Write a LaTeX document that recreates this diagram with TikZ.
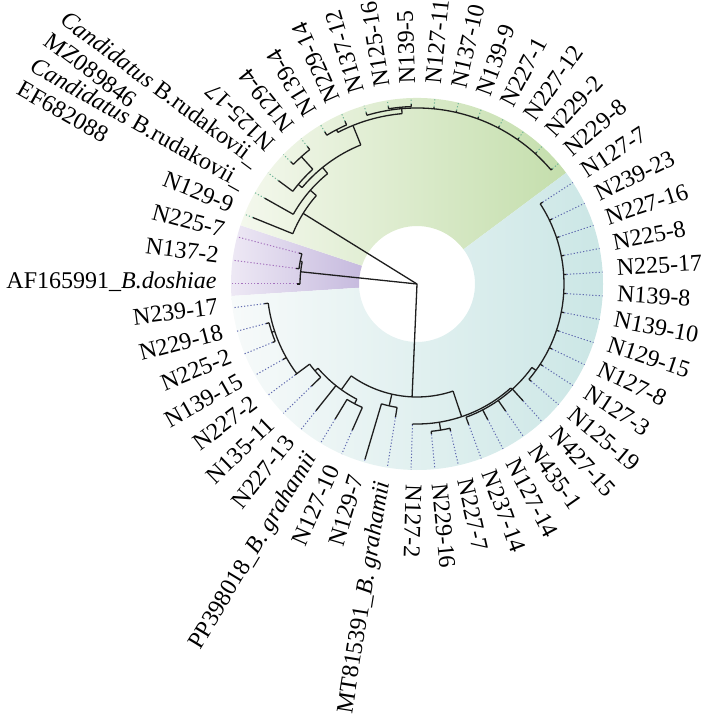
\documentclass[tikz,border=0pt]{standalone}
\usepackage{fontspec}
\setmainfont{Liberation Serif}
\usepackage{xcolor}
\definecolor{greenlight}{RGB}{244,248,237}
\definecolor{greendark}{RGB}{196,222,172}
\definecolor{bluelight}{RGB}{247,250,250}
\definecolor{bluedark}{RGB}{200,229,228}
\definecolor{purplelight}{RGB}{238,233,245}
\definecolor{purpledark}{RGB}{198,186,222}
\definecolor{dotgreen}{RGB}{110,180,150}
\definecolor{dotblue}{RGB}{95,105,175}
\definecolor{dotpurple}{RGB}{165,115,190}
\definecolor{branchcolor}{RGB}{30,30,30}

\begin{document}
\begin{tikzpicture}[
    x=0.5pt, y=0.5pt,
    branch/.style={draw=branchcolor, line width=0.65pt},
    tipG/.style={draw=dotgreen, line width=0.5pt, dash pattern=on 0.6pt off 1pt},
    tipB/.style={draw=dotblue, line width=0.5pt, dash pattern=on 0.6pt off 1pt},
    tipP/.style={draw=dotpurple, line width=0.5pt, dash pattern=on 0.6pt off 1pt},
    labR/.style={anchor=mid west, inner sep=0pt, inner xsep=7pt, font=\fontsize{12}{13}\selectfont},
    labL/.style={anchor=mid east, inner sep=0pt, inner xsep=7pt, font=\fontsize{12}{13}\selectfont},
    twoline/.style={text height=9pt, text depth=4pt}
]
\useasboundingbox (-417,-431) rectangle (283,284);

% Clade wedges
\shade[left color=purplelight, right color=purpledark] (183.7:58) -- (183.7:186) arc[start angle=183.7, end angle=161.6, radius=186] -- (161.6:58) arc[start angle=161.6, end angle=183.7, radius=58] -- cycle;
\shade[left color=greenlight, right color=greendark] (161.6:58) -- (161.6:186) arc[start angle=161.6, end angle=36.7, radius=186] -- (36.7:58) arc[start angle=36.7, end angle=161.6, radius=58] -- cycle;
\shade[left color=bluelight, right color=bluedark] (36.7:58) -- (36.7:186) arc[start angle=36.7, end angle=-176.3, radius=186] -- (-176.3:58) arc[start angle=-176.3, end angle=36.7, radius=58] -- cycle;

% Internal nodes
\coordinate (root) at (0,0);
\coordinate (P) at (174:117);
\coordinate (P2) at (168.98:119);
\coordinate (G) at (148.2:134);
\coordinate (G1) at (138.7:142);
\coordinate (G2) at (129:150);
\coordinate (Y) at (140:155);
\coordinate (A) at (132.25:172);
\coordinate (D) at (112:171);
\coordinate (C) at (117.55:174);
\coordinate (E) at (95:176);
\coordinate (H) at (95.51:177.5);
\coordinate (B) at (-92.5:113);
\coordinate (V) at (-125.6:130);
\coordinate (X) at (-117.55:135);
\coordinate (V1) at (-139.6:134);
\coordinate (V2) at (-143.27:150);
\coordinate (V3) at (-161.64:153);
\coordinate (W) at (-102.86:125);
\coordinate (R) at (-71.4:140);
\coordinate (S) at (-80.8:148);
\coordinate (T) at (-48:142);
\coordinate (U) at (-36:147);

% Branches
\draw[branch] (root) -- (P);
\draw[branch] (root) -- (G);
\draw[branch] (root) -- (B);
\draw[branch] (168.98:117) arc[start angle=168.98, end angle=180, radius=117];
\draw[branch] (168.98:117) -- (P2);
\draw[branch] (165.31:119) arc[start angle=165.31, end angle=172.65, radius=119];
\draw[branch] (138.7:134) arc[start angle=138.7, end angle=157.96, radius=134];
\draw[branch] (138.7:134) -- (G1);
\draw[branch] (129:142) arc[start angle=129, end angle=150.61, radius=142];
\draw[branch] (129:142) -- (G2);
\draw[branch] (112:150) arc[start angle=112, end angle=140, radius=150];
\draw[branch] (140:150) -- (Y);
\draw[branch] (132.25:155) arc[start angle=132.25, end angle=143.27, radius=155];
\draw[branch] (132.25:155) -- (A);
\draw[branch] (128.57:172) arc[start angle=128.57, end angle=135.92, radius=172];
\draw[branch] (112:150) -- (D);
\draw[branch] (95:171) arc[start angle=95, end angle=117.55, radius=171];
\draw[branch] (117.55:171) -- (C);
\draw[branch] (113.88:174) arc[start angle=113.88, end angle=121.22, radius=174];
\draw[branch] (95:171) -- (E);
\draw[branch] (40.41:176) arc[start angle=40.41, end angle=106.53, radius=176];
\draw[branch] (95.51:176) -- (H);
\draw[branch] (91.84:177.5) arc[start angle=91.84, end angle=99.18, radius=177.5];
\draw[branch] (-125.6:113) arc[start angle=-125.6, end angle=-71.4, radius=113];
\draw[branch] (-125.6:113) -- (V);
\draw[branch] (-139.6:130) arc[start angle=-139.6, end angle=-117.55, radius=130];
\draw[branch] (-117.55:130) -- (X);
\draw[branch] (-121.22:135) arc[start angle=-121.22, end angle=-113.88, radius=135];
\draw[branch] (-139.6:130) -- (V1);
\draw[branch] (-143.27:134) arc[start angle=-143.27, end angle=-135.92, radius=134];
\draw[branch] (-143.27:134) -- (V2);
\draw[branch] (-172.65:150) arc[start angle=-172.65, end angle=-143.27, radius=150];
\draw[branch] (-161.64:150) -- (V3);
\draw[branch] (-165.31:153) arc[start angle=-165.31, end angle=-157.96, radius=153];
\draw[branch] (-102.86:113) -- (W);
\draw[branch] (-106.53:125) arc[start angle=-106.53, end angle=-99.18, radius=125];
\draw[branch] (-71.4:113) -- (R);
\draw[branch] (-91.84:140) arc[start angle=-91.84, end angle=-48, radius=140];
\draw[branch] (-80.8:140) -- (S);
\draw[branch] (-84.49:148) arc[start angle=-84.49, end angle=-77.14, radius=148];
\draw[branch] (-48:140) -- (T);
\draw[branch] (-69.8:142) arc[start angle=-69.8, end angle=-36, radius=142];
\draw[branch] (-36:142) -- (U);
\draw[branch] (-40.41:147) arc[start angle=-40.41, end angle=33.06, radius=147];

% Tips and labels
\draw[branch] (180:117) -- (180:120) coordinate (t1); \draw[tipP] (t1) -- (180:186) node[labL, rotate=0] (lab1) {AF165991\_\textit{B.doshiae}};
\draw[branch] (172.65:119) -- (172.65:122) coordinate (t2); \draw[tipP] (t2) -- (172.65:186) node[labL, rotate=-7.35] (lab2) {N137-2};
\draw[branch] (165.31:119) -- (165.31:122) coordinate (t3); \draw[tipP] (t3) -- (165.31:186) node[labL, rotate=-14.69] (lab3) {N225-7};
\draw[branch] (157.96:134) -- (157.96:177) coordinate (t4); \draw[tipG] (t4) -- (157.96:186) node[labL, rotate=-22.04] (lab4) {N129-9};
\draw[branch] (150.61:142) -- (150.61:175) coordinate (t5); \draw[tipG] (t5) -- (150.61:186) node[labL, twoline, rotate=-29.39] (lab5) {\textit{Candidatus} B.rudakovii\_};
\node[labL, twoline, rotate=-29.39, anchor=north west] (lab5b) at (lab5.south west) {EF682088};
\draw[branch] (143.27:155) -- (143.27:173) coordinate (t6); \draw[tipG] (t6) -- (143.27:186) node[labL, twoline, rotate=-36.73] (lab6) {\textit{Candidatus} B.rudakovii\_};
\node[labL, twoline, rotate=-36.73, anchor=north west] (lab6b) at (lab6.south west) {MZ089846};
\draw[branch] (135.92:172) -- (135.92:176) coordinate (t7); \draw[tipG] (t7) -- (135.92:186) node[labR, rotate=135.92] (lab7) {N125-17};
\draw[branch] (128.57:172) -- (128.57:176) coordinate (t8); \draw[tipG] (t8) -- (128.57:186) node[labR, rotate=128.57] (lab8) {N129-4};
\draw[branch] (121.22:174) -- (121.22:178) coordinate (t9); \draw[tipG] (t9) -- (121.22:186) node[labR, rotate=121.22] (lab9) {N139-4};
\draw[branch] (113.88:174) -- (113.88:178) coordinate (t10); \draw[tipG] (t10) -- (113.88:186) node[labR, rotate=113.88] (lab10) {N229-14};
\draw[branch] (106.53:176) -- (106.53:179) coordinate (t11); \draw[tipG] (t11) -- (106.53:186) node[labR, rotate=106.53] (lab11) {N137-12};
\draw[branch] (99.18:177.5) -- (99.18:180) coordinate (t12); \draw[tipG] (t12) -- (99.18:186) node[labR, rotate=99.18] (lab12) {N125-16};
\draw[branch] (91.84:177.5) -- (91.84:180) coordinate (t13); \draw[tipG] (t13) -- (91.84:186) node[labR, rotate=91.84] (lab13) {N139-5};
\draw[branch] (84.49:176) -- (84.49:178) coordinate (t14); \draw[tipG] (t14) -- (84.49:186) node[labR, rotate=84.49] (lab14) {N127-11};
\draw[branch] (77.14:176) -- (77.14:178) coordinate (t15); \draw[tipG] (t15) -- (77.14:186) node[labR, rotate=77.14] (lab15) {N137-10};
\draw[branch] (69.80:176) -- (69.80:178) coordinate (t16); \draw[tipG] (t16) -- (69.80:186) node[labR, rotate=69.80] (lab16) {N139-9};
\draw[branch] (62.45:176) -- (62.45:178) coordinate (t17); \draw[tipG] (t17) -- (62.45:186) node[labR, rotate=62.45] (lab17) {N227-1};
\draw[branch] (55.10:176) -- (55.10:178) coordinate (t18); \draw[tipG] (t18) -- (55.10:186) node[labR, rotate=55.10] (lab18) {N227-12};
\draw[branch] (47.76:176) -- (47.76:178) coordinate (t19); \draw[tipG] (t19) -- (47.76:186) node[labR, rotate=47.76] (lab19) {N229-2};
\draw[branch] (40.41:176) -- (40.41:178) coordinate (t20); \draw[tipG] (t20) -- (40.41:186) node[labR, rotate=40.41] (lab20) {N229-8};
\draw[branch] (33.06:147) -- (33.06:150) coordinate (t21); \draw[tipB] (t21) -- (33.06:186) node[labR, rotate=33.06] (lab21) {N127-7};
\draw[branch] (25.71:147) -- (25.71:150) coordinate (t22); \draw[tipB] (t22) -- (25.71:186) node[labR, rotate=25.71] (lab22) {N239-23};
\draw[branch] (18.37:147) -- (18.37:150) coordinate (t23); \draw[tipB] (t23) -- (18.37:186) node[labR, rotate=18.37] (lab23) {N227-16};
\draw[branch] (11.02:147) -- (11.02:150) coordinate (t24); \draw[tipB] (t24) -- (11.02:186) node[labR, rotate=11.02] (lab24) {N225-8};
\draw[branch] (3.67:147) -- (3.67:150) coordinate (t25); \draw[tipB] (t25) -- (3.67:186) node[labR, rotate=3.67] (lab25) {N225-17};
\draw[branch] (-3.67:147) -- (-3.67:150) coordinate (t26); \draw[tipB] (t26) -- (-3.67:186) node[labR, rotate=-3.67] (lab26) {N139-8};
\draw[branch] (-11.02:147) -- (-11.02:150) coordinate (t27); \draw[tipB] (t27) -- (-11.02:186) node[labR, rotate=-11.02] (lab27) {N139-10};
\draw[branch] (-18.37:147) -- (-18.37:150) coordinate (t28); \draw[tipB] (t28) -- (-18.37:186) node[labR, rotate=-18.37] (lab28) {N129-15};
\draw[branch] (-25.71:147) -- (-25.71:150) coordinate (t29); \draw[tipB] (t29) -- (-25.71:186) node[labR, rotate=-25.71] (lab29) {N127-8};
\draw[branch] (-33.06:147) -- (-33.06:150) coordinate (t30); \draw[tipB] (t30) -- (-33.06:186) node[labR, rotate=-33.06] (lab30) {N127-3};
\draw[branch] (-40.41:147) -- (-40.41:150) coordinate (t31); \draw[tipB] (t31) -- (-40.41:186) node[labR, rotate=-40.41] (lab31) {N125-19};
\draw[branch] (-47.76:142) -- (-47.76:158) coordinate (t32); \draw[tipB] (t32) -- (-47.76:186) node[labR, rotate=-47.76] (lab32) {N427-15};
\draw[branch] (-55.10:142) -- (-55.10:155) coordinate (t33); \draw[tipB] (t33) -- (-55.10:186) node[labR, rotate=-55.10] (lab33) {N435-1};
\draw[branch] (-62.45:142) -- (-62.45:153) coordinate (t34); \draw[tipB] (t34) -- (-62.45:186) node[labR, rotate=-62.45] (lab34) {N127-14};
\draw[branch] (-69.80:142) -- (-69.80:150) coordinate (t35); \draw[tipB] (t35) -- (-69.80:186) node[labR, rotate=-69.80] (lab35) {N237-14};
\draw[branch] (-77.14:148) -- (-77.14:151) coordinate (t36); \draw[tipB] (t36) -- (-77.14:186) node[labR, rotate=-77.14] (lab36) {N227-7};
\draw[branch] (-84.49:148) -- (-84.49:151) coordinate (t37); \draw[tipB] (t37) -- (-84.49:186) node[labR, rotate=-84.49] (lab37) {N229-16};
\draw[branch] (-91.84:140) -- (-91.84:141) coordinate (t38); \draw[tipB] (t38) -- (-91.84:186) node[labR, rotate=-91.84] (lab38) {N127-2};
\draw[branch] (-99.18:125) -- (-99.18:135) coordinate (t39); \draw[tipB] (t39) -- (-99.18:186) node[labL, rotate=80.82] (lab39) {MT815391\_\textit{B}. \textit{grahamii}};
\draw[branch] (-106.53:125) -- (-106.53:183) coordinate (t40); \draw[tipB] (t40) -- (-106.53:186) node[labL, rotate=73.47] (lab40) {N129-7};
\draw[branch] (-113.88:135) -- (-113.88:160) coordinate (t41); \draw[tipB] (t41) -- (-113.88:186) node[labL, rotate=66.12] (lab41) {N127-10};
\draw[branch] (-121.22:135) -- (-121.22:158) coordinate (t42); \draw[tipB] (t42) -- (-121.22:186) node[labL, rotate=58.78] (lab42) {PP398018\_\textit{B}. \textit{grahamii}};
\draw[branch] (-128.57:130) -- (-128.57:162) coordinate (t43); \draw[tipB] (t43) -- (-128.57:186) node[labL, rotate=51.43] (lab43) {N227-13};
\draw[branch] (-135.92:134) -- (-135.92:147) coordinate (t44); \draw[tipB] (t44) -- (-135.92:186) node[labL, rotate=44.08] (lab44) {N135-11};
\draw[branch] (-143.27:150) -- (-143.27:152) coordinate (t45); \draw[tipB] (t45) -- (-143.27:186) node[labL, rotate=36.73] (lab45) {N227-2};
\draw[branch] (-150.61:150) -- (-150.61:154) coordinate (t46); \draw[tipB] (t46) -- (-150.61:186) node[labL, rotate=29.39] (lab46) {N139-15};
\draw[branch] (-157.96:153) -- (-157.96:156) coordinate (t47); \draw[tipB] (t47) -- (-157.96:186) node[labL, rotate=22.04] (lab47) {N225-2};
\draw[branch] (-165.31:153) -- (-165.31:156) coordinate (t48); \draw[tipB] (t48) -- (-165.31:186) node[labL, rotate=14.69] (lab48) {N229-18};
\draw[branch] (-172.65:150) -- (-172.65:154) coordinate (t49); \draw[tipB] (t49) -- (-172.65:186) node[labL, rotate=7.35] (lab49) {N239-17};

\end{tikzpicture}
\end{document}
